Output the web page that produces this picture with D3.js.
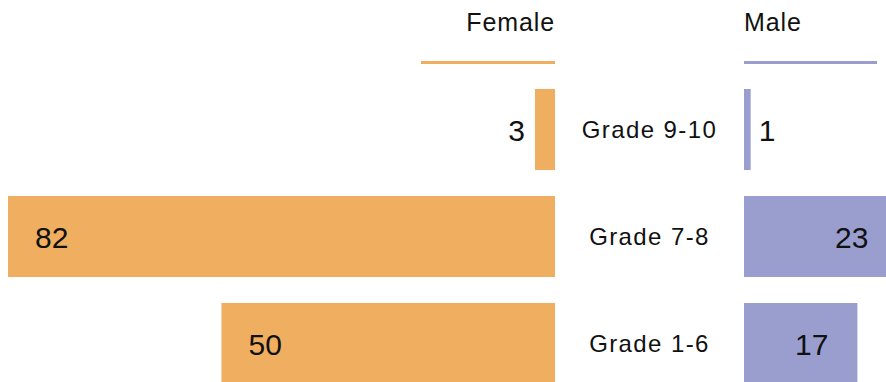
<!DOCTYPE html>
<html>
<head>
<meta charset="utf-8">
<script src="https://cdn.jsdelivr.net/npm/d3@7"></script>
<style>
  html, body { margin: 0; padding: 0; background: #fff; }
  svg { display: block; font-family: "Liberation Sans", Arial, Helvetica, sans-serif; }
</style>
</head>
<body>
<svg id="chart" width="886" height="382"></svg>
<script>
// Enrolment by grade band, split by gender
const categories = ["Grade 9-10", "Grade 7-8", "Grade 1-6"];
const female = [3, 82, 50];
const male = [1, 23, 17];
const seriesNames = ["Female", "Male"];

const colors = { Female: "#f0ae60", Male: "#9a9ecf" };

const W = 886, H = 382;
const svg = d3.select("#chart");

const femaleEdge = 555;   // inner edge of female bars
const maleEdge = 744;     // inner edge of male bars
const unit = 547 / 82;    // px per count, shared by both sides
const maxV = d3.max(female.concat(male));

const xF = d3.scaleLinear().domain([0, maxV]).range([femaleEdge, femaleEdge - maxV * unit]);
const xM = d3.scaleLinear().domain([0, maxV]).range([maleEdge, maleEdge + maxV * unit]);

const y = d3.scaleBand()
  .domain(categories)
  .range([89, 384])
  .paddingInner(26 / 107)
  .paddingOuter(0);

// Column headers with coloured rules
svg.append("text")
  .attr("x", femaleEdge).attr("y", 31)
  .attr("text-anchor", "end")
  .attr("font-size", 25).attr("letter-spacing", 0.9).attr("fill", "#111")
  .text(seriesNames[0]);
svg.append("text")
  .attr("x", maleEdge).attr("y", 31)
  .attr("text-anchor", "start")
  .attr("font-size", 25).attr("letter-spacing", 0.9).attr("fill", "#111")
  .text(seriesNames[1]);

svg.append("line")
  .attr("x1", femaleEdge - 134).attr("x2", femaleEdge)
  .attr("y1", 62.5).attr("y2", 62.5)
  .attr("stroke", colors.Female).attr("stroke-width", 3);
svg.append("line")
  .attr("x1", maleEdge).attr("x2", maleEdge + 133)
  .attr("y1", 62.5).attr("y2", 62.5)
  .attr("stroke", colors.Male).attr("stroke-width", 3);

const rows = categories.map((c, i) => ({ cat: c, f: female[i], m: male[i] }));

// Female bars grow leftwards
svg.append("g").selectAll("rect").data(rows).join("rect")
  .attr("x", d => xF(d.f))
  .attr("y", d => y(d.cat))
  .attr("width", d => femaleEdge - xF(d.f))
  .attr("height", y.bandwidth())
  .attr("fill", colors.Female);

// Male bars grow rightwards
svg.append("g").selectAll("rect").data(rows).join("rect")
  .attr("x", maleEdge)
  .attr("y", d => y(d.cat))
  .attr("width", d => xM(d.m) - maleEdge)
  .attr("height", y.bandwidth())
  .attr("fill", colors.Male);

// Category labels in the gutter
svg.append("g").selectAll("text").data(rows).join("text")
  .attr("x", (femaleEdge + maleEdge) / 2)
  .attr("y", d => y(d.cat) + y.bandwidth() / 2)
  .attr("text-anchor", "middle")
  .attr("dominant-baseline", "central")
  .attr("font-size", 24).attr("letter-spacing", 1.4).attr("fill", "#111")
  .text(d => d.cat);

const minInside = 60;

// Female value labels: inside near the outer end, or outside when the bar is short
svg.append("g").selectAll("text").data(rows).join("text")
  .attr("x", d => {
    const w = femaleEdge - xF(d.f);
    return w < minInside ? xF(d.f) - 10 : xF(d.f) + 27;
  })
  .attr("text-anchor", d => (femaleEdge - xF(d.f)) < minInside ? "end" : "start")
  .attr("y", d => y(d.cat) + y.bandwidth() / 2 + 1)
  .attr("dominant-baseline", "central")
  .attr("font-size", 30).attr("fill", "#111")
  .text(d => d.f);

// Male value labels
svg.append("g").selectAll("text").data(rows).join("text")
  .attr("x", d => {
    const w = xM(d.m) - maleEdge;
    return w < minInside ? xM(d.m) + 8 : xM(d.m) - 29;
  })
  .attr("text-anchor", d => (xM(d.m) - maleEdge) < minInside ? "start" : "end")
  .attr("y", d => y(d.cat) + y.bandwidth() / 2 + 1)
  .attr("dominant-baseline", "central")
  .attr("font-size", 30).attr("fill", "#111")
  .text(d => d.m);
</script>
</body>
</html>
